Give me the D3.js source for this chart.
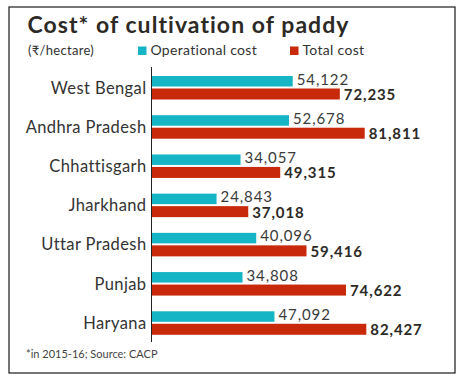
<!DOCTYPE html>
<html><head><meta charset="utf-8">
<script src="https://cdn.jsdelivr.net/npm/d3@7"></script>
<style>
body{margin:0;background:#fff;}
svg{display:block;font-family:Lato,"Open Sans",sans-serif;}
</style></head><body>
<svg id="c" width="465" height="381"></svg>
<script>
const states = ["West Bengal","Andhra Pradesh","Chhattisgarh","Jharkhand","Uttar Pradesh","Punjab","Haryana"];
const operationalCost = [54122,52678,34057,24843,40096,34808,47092];
const totalCost = [72235,81811,49315,37018,59416,74622,82427];
const seriesNames = ["Operational cost","Total cost"];
const colors = ["#16b5c5","#c8290b"];

const svg = d3.select("#c");
svg.append("rect").attr("x",9).attr("y",7).attr("width",446).attr("height",366)
  .attr("fill","#fff").attr("stroke","#2b2b2b").attr("stroke-width",1.3);

svg.append("text").attr("x",27.5).attr("y",33).attr("font-size",23).attr("font-weight",700)
  .attr("letter-spacing",1.05).attr("fill","#2d2a26").text("Cost* of cultivation of paddy");
svg.append("text").attr("x",28).attr("y",55).attr("font-size",13).attr("letter-spacing",0.3).attr("fill","#333").text("(₹/hectare)");

const lg = [{x:138,t:seriesNames[0],c:colors[0]},{x:290,t:seriesNames[1],c:colors[1]}];
lg.forEach(d=>{
  svg.append("rect").attr("x",d.x).attr("y",46.5).attr("width",8.5).attr("height",8.5).attr("fill",d.c);
  svg.append("text").attr("x",d.x+12.5).attr("y",55).attr("font-size",14).attr("letter-spacing",0.3).attr("fill","#333").text(d.t);
});

const x = d3.scaleLinear().domain([0,100000]).range([152,412]);
const y = d3.scaleBand().domain(states).range([70.5,345]).paddingInner(0).paddingOuter(0);
const bh = 11;

const g = svg.append("g");
states.forEach((s,i)=>{
  const y0 = y(s)+5.5;
  g.append("rect").attr("x",x(0)).attr("y",y0).attr("width",x(operationalCost[i])-x(0)).attr("height",bh-0.5).attr("fill",colors[0]);
  g.append("rect").attr("x",x(0)).attr("y",y0+bh+1.5).attr("width",x(totalCost[i])-x(0)).attr("height",bh).attr("fill",colors[1]);
  g.append("text").attr("x",x(operationalCost[i])+4).attr("y",y0+8.5).attr("font-size",15).attr("font-weight",400)
    .attr("letter-spacing",0.9).attr("fill","#3a3a3a").text(d3.format(",")(operationalCost[i]));
  g.append("text").attr("x",x(totalCost[i])+4).attr("y",y0+bh+13).attr("font-size",15).attr("font-weight",700)
    .attr("letter-spacing",0.9).attr("fill","#2d2a26").text(d3.format(",")(totalCost[i]));
  g.append("text").attr("x",146.5).attr("y",y0+17.5).attr("text-anchor","end").attr("font-size",16.5)
    .attr("letter-spacing",0.4).attr("fill","#333").text(s);
});
svg.append("line").attr("x1",151.5).attr("x2",151.5).attr("y1",67).attr("y2",342).attr("stroke","#222").attr("stroke-width",1);

svg.append("text").attr("x",26).attr("y",358).attr("font-size",11).attr("fill","#444").text("*in 2015-16; Source: CACP");
</script></body></html>
